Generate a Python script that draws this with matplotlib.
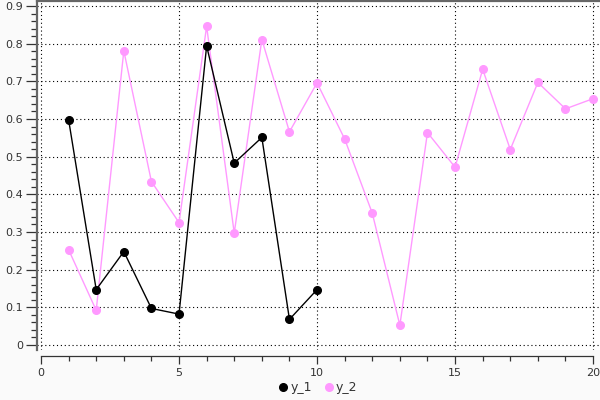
import matplotlib
matplotlib.use("Agg")
import matplotlib.pyplot as plt
from matplotlib.ticker import MultipleLocator

x1 = [1, 2, 3, 4, 5, 6, 7, 8, 9, 10]
y1 = [0.598, 0.147, 0.248, 0.097, 0.082, 0.794, 0.483, 0.551, 0.068, 0.147]
x2 = list(range(1, 21))
y2 = [0.253, 0.092, 0.781, 0.434, 0.325, 0.846, 0.297, 0.811, 0.566, 0.696,
      0.547, 0.350, 0.0525, 0.564, 0.472, 0.732, 0.519, 0.697, 0.627, 0.654]
labels = ["y_1", "y_2"]
colors = ["#000000", "#ff99ff"]

fig = plt.figure(figsize=(6, 4), dpi=100, facecolor="#fafafa")
ax = fig.add_axes([37/600, 50/400, 563/600, 349/400])
ax.set_facecolor("white")

ax.plot(x1, y1, color=colors[0], lw=1.0, marker="o", ms=5.5, label=labels[0], zorder=3)
ax.plot(x2, y2, color=colors[1], lw=1.0, marker="o", ms=5.5, label=labels[1], zorder=2)

ax.set_xlim(-0.145, 20.25)
ax.set_ylim(-0.0133, 0.9133)
ax.xaxis.set_major_locator(MultipleLocator(5))
ax.xaxis.set_minor_locator(MultipleLocator(1))
ax.yaxis.set_major_locator(MultipleLocator(0.1))
ax.yaxis.set_minor_locator(MultipleLocator(0.02))
ax.yaxis.set_major_formatter(matplotlib.ticker.FuncFormatter(lambda v, p: "0" if abs(v) < 1e-9 else f"{v:.1f}"))

ax.grid(True, which="major", color="black", lw=0.8, linestyle=(0, (1, 2.5)))
ax.set_axisbelow(True)

ax.spines["right"].set_visible(False)
ax.spines["left"].set_color("#666666")
ax.spines["left"].set_linewidth(1.6)
ax.spines["top"].set_color("#666666")
ax.spines["top"].set_linewidth(1.6)
ax.spines["bottom"].set_position(("outward", 4))
ax.spines["bottom"].set_bounds(0, 20)
ax.spines["bottom"].set_color("#333333")
ax.spines["bottom"].set_linewidth(0.9)

ax.tick_params(axis="y", which="major", length=8, width=0.9, color="#333333",
               labelsize=8, labelcolor="#333333", pad=2)
ax.tick_params(axis="y", which="minor", length=4.3, width=0.9, color="#333333")
ax.tick_params(axis="x", which="major", length=5.8, width=0.9, color="#333333",
               labelsize=8, labelcolor="#333333", pad=3)
ax.tick_params(axis="x", which="minor", length=3.6, width=0.9, color="#333333")

leg = fig.legend(loc="center", bbox_to_anchor=(318.5/600, 12/400), ncol=2, frameon=False,
                 fontsize=9, handlelength=0.6, handletextpad=0.3, columnspacing=1.0,
                 markerscale=1.0)
for h in leg.legend_handles:
    h.set_linestyle("")
for t in leg.get_texts():
    t.set_color("#333333")

fig.savefig("out.png", dpi=100, facecolor=fig.get_facecolor())
